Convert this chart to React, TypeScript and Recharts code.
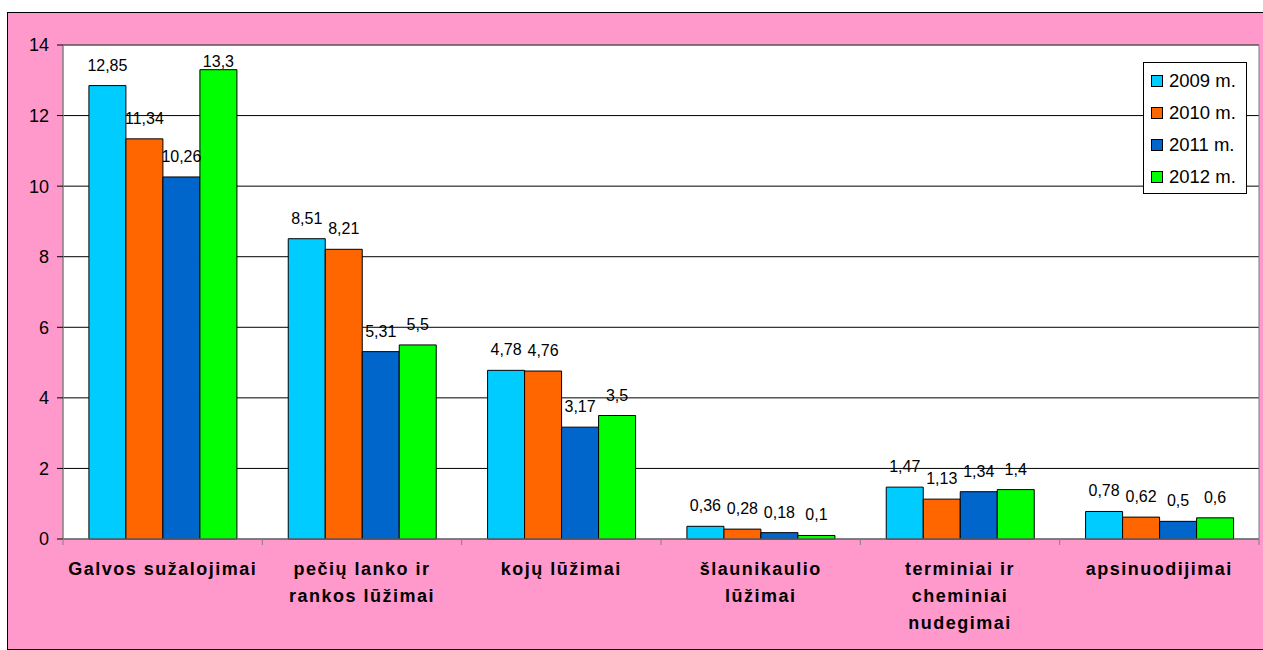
import React from "react";
import {
  BarChart,
  Bar,
  XAxis,
  YAxis,
  CartesianGrid,
  Legend,
  LabelList,
  ReferenceArea,
} from "recharts";

const categories = [
  "Galvos sužalojimai",
  "pečių lanko ir\nrankos lūžimai",
  "kojų lūžimai",
  "šlaunikaulio\nlūžimai",
  "terminiai ir\ncheminiai\nnudegimai",
  "apsinuodijimai",
];
const seriesNames = ["2009 m.", "2010 m.", "2011 m.", "2012 m."];
const v2009 = [12.85, 8.51, 4.78, 0.36, 1.47, 0.78];
const v2010 = [11.34, 8.21, 4.76, 0.28, 1.13, 0.62];
const v2011 = [10.26, 5.31, 3.17, 0.18, 1.34, 0.5];
const v2012 = [13.3, 5.5, 3.5, 0.1, 1.4, 0.6];
const yTicks = [0, 2, 4, 6, 8, 10, 12, 14];
const yMax = 14;
const colors = ["#00CCFF", "#FF6600", "#0066CC", "#00FF00"];

const keys = ["s2009", "s2010", "s2011", "s2012"];

const data = categories.map((c, i) => ({
  name: c,
  s2009: v2009[i],
  s2010: v2010[i],
  s2011: v2011[i],
  s2012: v2012[i],
}));

const FONT = "'Liberation Sans', Arial, sans-serif";

const fmt = (v: any) => String(v).replace(".", ",");

const CategoryTick = (props: any) => {
  const { x, y, payload, width, visibleTicksCount, index } = props;
  const lines = String(payload.value).split("\n");
  const band = width / visibleTicksCount;
  const left = x - band / 2;
  const right = x + band / 2;
  return (
    <g>
      <line x1={left} y1={y} x2={left} y2={y + 6} stroke="#808080" />
      {index === visibleTicksCount - 1 && (
        <line x1={right} y1={y} x2={right} y2={y + 6} stroke="#808080" />
      )}
      <text
        x={x}
        y={y}
        textAnchor="middle"
        fontFamily={FONT}
        fontSize={18}
        fontWeight="bold"
        letterSpacing={1.5}
        fill="#000"
      >
        {lines.map((l, i) => (
          <tspan key={i} x={x} dy={i === 0 ? 36 : 27}>
            {l}
          </tspan>
        ))}
      </text>
    </g>
  );
};

const ValueLabel = (props: any) => {
  const { x, y, width, height, value } = props;
  const bottom = y + height;
  const plotTop = value > 0 ? bottom - (height * yMax) / value : y;
  const baseline = Math.max(y - 15, plotTop + 22);
  return (
    <text
      x={x + width / 2}
      y={baseline}
      textAnchor="middle"
      fontFamily={FONT}
      fontSize={16}
      fill="#000"
    >
      {fmt(value)}
    </text>
  );
};

const LegendBox = () => (
  <div
    style={{
      width: 102,
      height: 130,
      border: "1px solid #000",
      background: "#fff",
      fontFamily: FONT,
      fontSize: 18.5,
      boxSizing: "content-box",
      position: "relative",
    }}
  >
    {seriesNames.map((n, i) => (
      <div
        key={n}
        style={{
          position: "absolute",
          left: 7,
          top: 7 + i * 32,
          height: 22,
          display: "flex",
          alignItems: "center",
          whiteSpace: "nowrap",
        }}
      >
        <span
          style={{
            display: "inline-block",
            width: 10,
            height: 10,
            border: "1px solid #000",
            background: colors[i],
            marginRight: 6,
          }}
        />
        <span>{n}</span>
      </div>
    ))}
  </div>
);

export default function App() {
  return (
    <div
      style={{
        position: "absolute",
        left: 7,
        top: 12,
        width: 1262,
        height: 638,
        boxSizing: "border-box",
        border: "1px solid #000",
        background: "#FF99CC",
        overflow: "hidden",
      }}
    >
      <BarChart
        width={1260}
        height={636}
        data={data}
        margin={{ top: 32, right: 9, left: 0, bottom: 0 }}
        barCategoryGap="13%"
        barGap={0}
      >
        <CartesianGrid
          vertical={false}
          stroke="#000"
          fill="#FFFFFF"
          fillOpacity={1}
        />
        <ReferenceArea
          y1={0}
          y2={yMax}
          fill="none"
          stroke="#808080"
          strokeWidth={1}
          ifOverflow="visible"
        />
        <XAxis
          dataKey="name"
          height={110}
          interval={0}
          axisLine={{ stroke: "#808080" }}
          tickLine={false}
          tickSize={0}
          tickMargin={0}
          tick={<CategoryTick />}
        />
        <YAxis
          width={55}
          domain={[0, yMax]}
          ticks={yTicks}
          interval={0}
          axisLine={{ stroke: "#808080" }}
          tickLine={{ stroke: "#000" }}
          tickSize={6}
          tickMargin={8}
          tick={{ fill: "#000", fontSize: 18, fontFamily: FONT }}
        />
        <Legend
          layout="vertical"
          align="center"
          verticalAlign="middle"
          wrapperStyle={{ position: "absolute", left: 1135, top: 49, width: "auto" }}
          content={<LegendBox />}
        />
        {keys.map((k, i) => (
          <Bar
            key={k}
            dataKey={k}
            name={seriesNames[i]}
            fill={colors[i]}
            stroke="#000"
            strokeWidth={1}
            isAnimationActive={false}
          >
            <LabelList dataKey={k} content={<ValueLabel />} />
          </Bar>
        ))}
      </BarChart>
    </div>
  );
}
